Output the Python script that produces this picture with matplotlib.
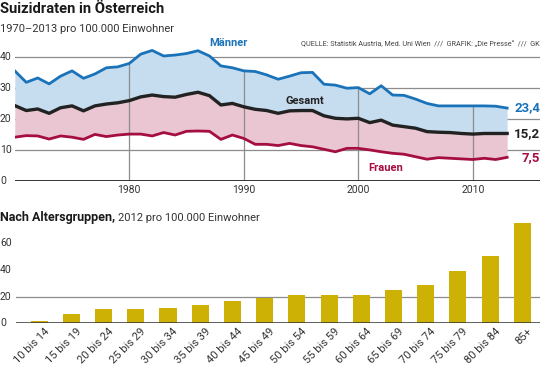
import numpy as np
import matplotlib
matplotlib.use("Agg")
import matplotlib.pyplot as plt
from matplotlib.transforms import blended_transform_factory

plt.rcParams["font.family"] = ["Roboto", "DejaVu Sans"]

# Zeitreihe 1970-2013, Suizide pro 100.000 Einwohner
years = np.arange(1970, 2014)
maenner = [35.4, 31.7, 33.1, 31.2, 33.7, 35.4, 33.0, 34.4, 36.4, 36.7,
           37.8, 40.8, 42.0, 40.2, 40.5, 41.0, 41.9, 40.2, 37.0, 36.4,
           35.4, 35.2, 34.1, 32.7, 33.7, 34.8, 34.9, 31.1, 30.8, 29.8,
           30.0, 28.0, 30.6, 27.6, 27.5, 26.3, 24.9, 24.1, 24.1, 24.1,
           24.1, 24.1, 24.0, 23.4]
gesamt = [24.2, 22.6, 23.1, 21.7, 23.5, 24.1, 22.5, 24.1, 24.7, 25.1,
          25.8, 27.0, 27.6, 27.1, 26.9, 27.8, 28.5, 27.4, 24.4, 24.9,
          23.8, 23.0, 22.6, 21.7, 22.5, 22.6, 22.6, 20.9, 20.1, 19.9,
          20.1, 18.7, 19.5, 17.9, 17.4, 16.9, 15.8, 15.6, 15.5, 15.2,
          15.0, 15.2, 15.2, 15.2]
frauen = [14.0, 14.5, 14.4, 13.4, 14.4, 14.0, 13.3, 14.9, 14.2, 14.7,
          15.0, 15.0, 14.4, 15.5, 14.7, 15.9, 16.0, 15.9, 13.3, 14.7,
          13.6, 11.7, 11.7, 11.3, 12.0, 11.3, 10.9, 10.1, 9.3, 10.4,
          10.4, 9.9, 9.3, 8.8, 8.5, 7.7, 6.9, 7.4, 7.2, 7.0,
          6.8, 7.2, 6.8, 7.5]
end_labels = ["23,4", "15,2", "7,5"]
decades = [1980, 1990, 2000, 2010]
line_yticks = [0, 10, 20, 30, 40]

# Altersgruppen 2012
age_groups = ["10 bis 14", "15 bis 19", "20 bis 24", "25 bis 29", "30 bis 34",
              "35 bis 39", "40 bis 44", "45 bis 49", "50 bis 54", "55 bis 59",
              "60 bis 64", "65 bis 69", "70 bis 74", "75 bis 79", "80 bis 84",
              "85+"]
age_rates = [1.4, 7.0, 10.9, 10.5, 11.4, 13.5, 16.7, 19.2, 21.2, 21.2,
             21.2, 24.7, 28.6, 39.1, 50.3, 75.5]
bar_yticks = [0, 20, 40, 60]

blue = "#1a73b9"
crimson = "#a50d43"
dark = "#222222"
grid_c = "#8c8c8c"
txt_c = "#333333"

fig = plt.figure(figsize=(5.4, 3.69), dpi=100)
fig.set_facecolor("white")

# Titel
fig.text(0.0, 0.995, "Suizidraten in Österreich", fontsize=10.6, weight="bold",
         color="#1a1a1a", va="top", ha="left")
fig.text(0.0, 0.935, "1970\u20132013 pro 100.000 Einwohner", fontsize=8,
         color=txt_c, va="top", ha="left")
fig.text(1.0, 0.88, "QUELLE: Statistik Austria, Med. Uni Wien  ///  GRAFIK: \u201eDie Presse\u201c  ///  GK",
         fontsize=5.2, color="#444444", va="center", ha="right")

# --- Oberes Diagramm: Linien ---
ax = fig.add_axes([0.0274, 0.5106, 0.9726, 0.378])
ax.set_xlim(1970, 2015.87)
ax.set_ylim(0, 45)
for s in ax.spines.values():
    s.set_visible(False)

for v in line_yticks[1:]:
    ax.axhline(v, color=grid_c, lw=0.9, zorder=1)
ax.axhline(0, color=txt_c, lw=1.4, zorder=5)

ax.fill_between(years, gesamt, maenner, color="#c6dcef", zorder=2, lw=0)
ax.fill_between(years, frauen, gesamt, color="#e9c6d1", zorder=2, lw=0)

# senkrechte Linien nur bis zur Männer-Kurve
m_at = dict(zip(years, maenner))
ax.vlines(decades, 0, [m_at[d] for d in decades], color=grid_c, lw=0.9, zorder=3)

ax.plot(years, maenner, color=blue, lw=2.0, zorder=4)
ax.plot(years, frauen, color=crimson, lw=2.0, zorder=4)
ax.plot(years, gesamt, color=dark, lw=2.4, zorder=4)

ax.set_xticks(decades)
ax.set_xticklabels([str(d) for d in decades], fontsize=7.5, color=txt_c)
ax.set_yticks([])
ax.tick_params(length=0, pad=3)

# y-Beschriftung links am Bildrand
tr = blended_transform_factory(fig.transFigure, ax.transData)
for v in line_yticks:
    ax.text(0.0, v, str(v), transform=tr, fontsize=7.5, color=txt_c,
            ha="left", va="center")

ax.text(1988.7, 44.5, "Männer", color=blue, fontsize=8, weight="bold",
        ha="center", va="center", clip_on=False)
ax.text(1995.3, 25.8, "Gesamt", color=dark, fontsize=8, weight="bold",
        ha="center", va="center")
ax.text(2002.4, 4.1, "Frauen", color=crimson, fontsize=8, weight="bold",
        ha="center", va="center")

for val, lab, col in zip([maenner[-1], gesamt[-1], frauen[-1]], end_labels,
                         [blue, dark, crimson]):
    ax.text(1.0, val, lab, color=col, fontsize=9.5, weight="bold", ha="right",
            va="center", transform=ax.get_yaxis_transform(), clip_on=False)

# --- Unteres Diagramm: Balken ---
t1 = fig.text(0.0, 0.41, "Nach Altersgruppen,", fontsize=9, weight="bold",
              color="#1a1a1a", va="center", ha="left")
fig.add_artist(plt.Annotation("2012 pro 100.000 Einwohner", xy=(1.0, 0.5),
                              xycoords=t1, xytext=(2, 0),
                              textcoords="offset points", fontsize=8,
                              color=txt_c, va="center", ha="left"))

bx = fig.add_axes([0.0296, 0.1238, 0.9704, 0.2746])
x = np.arange(len(age_groups))
bx.set_xlim(-0.72, 15.55)
bx.set_ylim(0, 76)
for s in bx.spines.values():
    s.set_visible(False)
bx.axhline(20, color=grid_c, lw=0.9, zorder=1)
bx.bar(x, age_rates, width=0.53, color="#cdb104", zorder=2)
bx.axhline(0, color=txt_c, lw=1.1, zorder=3)

bx.set_yticks([])
tr2 = blended_transform_factory(fig.transFigure, bx.transData)
for v in bar_yticks:
    bx.text(0.0, v, str(v), transform=tr2, fontsize=7.5, color=txt_c,
            ha="left", va="center")
bx.set_xticks(x + 0.15)
bx.set_xticklabels(age_groups, rotation=45, ha="right", va="top",
                   rotation_mode="anchor", fontsize=8.0, color=txt_c)
bx.tick_params(length=0, pad=2)

fig.savefig("out.png", dpi=100, facecolor="white")
